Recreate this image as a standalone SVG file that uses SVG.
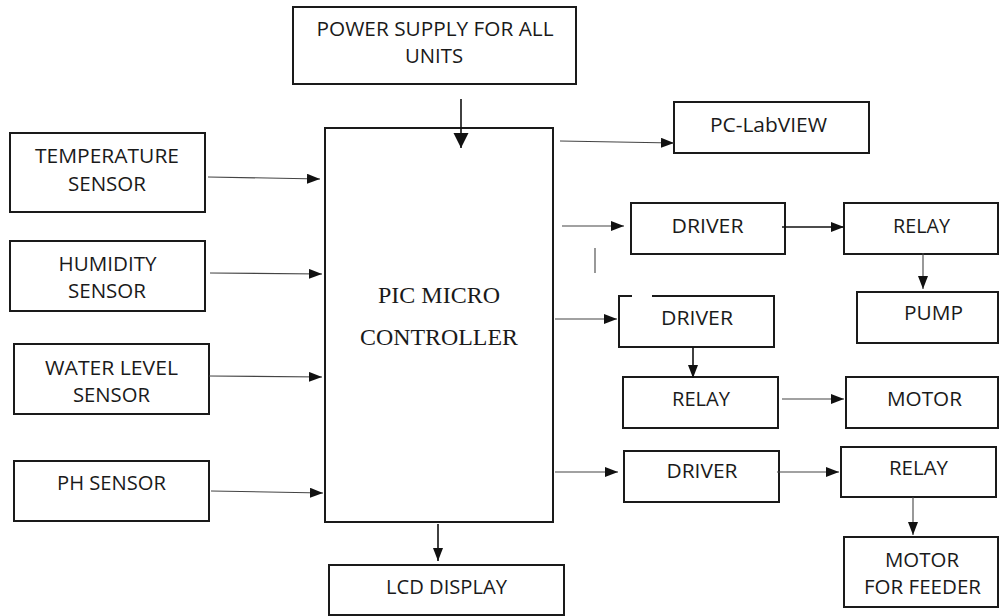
<svg xmlns="http://www.w3.org/2000/svg" width="1000" height="616" viewBox="0 0 1000 616">
<defs>
<style>
.box{fill:#fff;stroke:#1a1a1a;stroke-width:2}
.t{font-family:"Open Sans","Liberation Sans",sans-serif;font-size:19.5px;fill:#1a1a1a;text-anchor:middle}
.s{font-family:"Liberation Serif","Times New Roman",serif;font-size:23px;fill:#1a1a1a;text-anchor:middle}
.c{fill:none;stroke:#444;stroke-width:1.1}
.d{fill:none;stroke:#111;stroke-width:1.6}
</style>
<marker id="ah" markerUnits="userSpaceOnUse" markerWidth="14" markerHeight="12" refX="13" refY="5" orient="auto">
<path d="M0,0 L13,5 L0,10 z" fill="#111"/>
</marker>
<marker id="ahb" markerUnits="userSpaceOnUse" markerWidth="16" markerHeight="16" refX="15" refY="7.5" orient="auto">
<path d="M0,0 L15,7.5 L0,15 z" fill="#111"/>
</marker>
</defs>
<rect width="1000" height="616" fill="#fff"/>

<g id="power">
<rect class="box" x="293" y="7" width="283" height="77"/>
<text class="t" x="435" y="36" textLength="237" lengthAdjust="spacingAndGlyphs">POWER SUPPLY FOR ALL</text>
<text class="t" x="434" y="63" textLength="58" lengthAdjust="spacingAndGlyphs">UNITS</text>
</g>

<g id="temperature">
<rect class="box" x="10" y="133" width="195" height="79"/>
<text class="t" x="107" y="163" textLength="144" lengthAdjust="spacingAndGlyphs">TEMPERATURE</text>
<text class="t" x="107" y="191" textLength="78" lengthAdjust="spacingAndGlyphs">SENSOR</text>
</g>

<g id="humidity">
<rect class="box" x="10" y="241" width="195" height="70"/>
<text class="t" x="107.5" y="271" textLength="98" lengthAdjust="spacingAndGlyphs">HUMIDITY</text>
<text class="t" x="107" y="298" textLength="78" lengthAdjust="spacingAndGlyphs">SENSOR</text>
</g>

<g id="water">
<rect class="box" x="14" y="344" width="195" height="70"/>
<text class="t" x="111.5" y="375" textLength="133" lengthAdjust="spacingAndGlyphs">WATER LEVEL</text>
<text class="t" x="111.5" y="402" textLength="77" lengthAdjust="spacingAndGlyphs">SENSOR</text>
</g>

<g id="ph">
<rect class="box" x="14" y="461" width="195" height="60"/>
<text class="t" x="111.5" y="490" textLength="109" lengthAdjust="spacingAndGlyphs">PH SENSOR</text>
</g>

<g id="pic">
<rect class="box" x="325" y="128" width="228" height="394"/>
<text class="s" x="439" y="303" textLength="122" lengthAdjust="spacingAndGlyphs">PIC MICRO</text>
<text class="s" x="439" y="345" textLength="158" lengthAdjust="spacingAndGlyphs">CONTROLLER</text>
</g>

<g id="lcd">
<rect class="box" x="329" y="565" width="235" height="50"/>
<text class="t" x="446.5" y="594" textLength="121" lengthAdjust="spacingAndGlyphs">LCD DISPLAY</text>
</g>

<g id="pc">
<rect class="box" x="674" y="102" width="195" height="51"/>
<text class="t" x="768.5" y="132" textLength="117" lengthAdjust="spacingAndGlyphs">PC-LabVIEW</text>
</g>

<g id="driver1">
<rect class="box" x="631" y="203" width="154" height="51"/>
<text class="t" x="707.5" y="233" textLength="72" lengthAdjust="spacingAndGlyphs">DRIVER</text>
</g>

<g id="relay1">
<rect class="box" x="844" y="203" width="154" height="51"/>
<text class="t" x="921.5" y="233" textLength="57" lengthAdjust="spacingAndGlyphs">RELAY</text>
</g>

<g id="pump">
<rect class="box" x="857" y="292" width="141" height="51"/>
<text class="t" x="933.5" y="320" textLength="59" lengthAdjust="spacingAndGlyphs">PUMP</text>
</g>

<g id="driver2">
<path d="M632,296 L619,296 L619,347 L774,347 L774,296 L652,296" fill="#fff" stroke="#1a1a1a" stroke-width="2"/>
<text class="t" x="697" y="325" textLength="72" lengthAdjust="spacingAndGlyphs">DRIVER</text>
</g>

<g id="relay2">
<rect class="box" x="623" y="377" width="155" height="51"/>
<text class="t" x="701" y="406" textLength="58" lengthAdjust="spacingAndGlyphs">RELAY</text>
</g>

<g id="motor">
<rect class="box" x="846" y="377" width="152" height="51"/>
<text class="t" x="924.5" y="406" textLength="75" lengthAdjust="spacingAndGlyphs">MOTOR</text>
</g>

<g id="driver3">
<rect class="box" x="624" y="451" width="155" height="51"/>
<text class="t" x="702" y="478" textLength="71" lengthAdjust="spacingAndGlyphs">DRIVER</text>
</g>

<g id="relay3">
<rect class="box" x="841" y="447" width="155" height="50"/>
<text class="t" x="918.5" y="475" textLength="59" lengthAdjust="spacingAndGlyphs">RELAY</text>
</g>

<g id="feeder">
<rect class="box" x="844" y="537" width="154" height="70"/>
<text class="t" x="922" y="567" textLength="74" lengthAdjust="spacingAndGlyphs">MOTOR</text>
<text class="t" x="922.5" y="594" textLength="117" lengthAdjust="spacingAndGlyphs">FOR FEEDER</text>
</g>

<g id="connectors">
<path class="d" d="M461,99 L461,148" marker-end="url(#ahb)"/>
<path class="c" d="M208,177 L320,179" marker-end="url(#ah)"/>
<path class="c" d="M210,273 L322,274" marker-end="url(#ah)"/>
<path class="c" d="M209,376 L322,377" marker-end="url(#ah)"/>
<path class="c" d="M211,491 L323,493" marker-end="url(#ah)"/>
<path class="d" d="M438,524 L438,561" marker-end="url(#ah)"/>
<path class="c" d="M560,141 L674,143" marker-end="url(#ah)"/>
<path class="c" d="M562,226 L624,226" marker-end="url(#ah)"/>
<path class="d" d="M782,227 L844,227" marker-end="url(#ah)"/>
<path class="c" d="M923,253 L923,289" marker-end="url(#ah)"/>
<path class="c" d="M555,319 L617,319" marker-end="url(#ah)"/>
<path class="d" d="M693,347 L693,378" marker-end="url(#ah)"/>
<path class="c" d="M782,399 L844,399" marker-end="url(#ah)"/>
<path class="c" d="M555,472 L618,472" marker-end="url(#ah)"/>
<path class="c" d="M777,472 L839,472" marker-end="url(#ah)"/>
<path class="c" d="M913,497 L913,535" marker-end="url(#ah)"/>
<path class="c" d="M595,248 L595,273" stroke="#777"/>
</g>
</svg>
